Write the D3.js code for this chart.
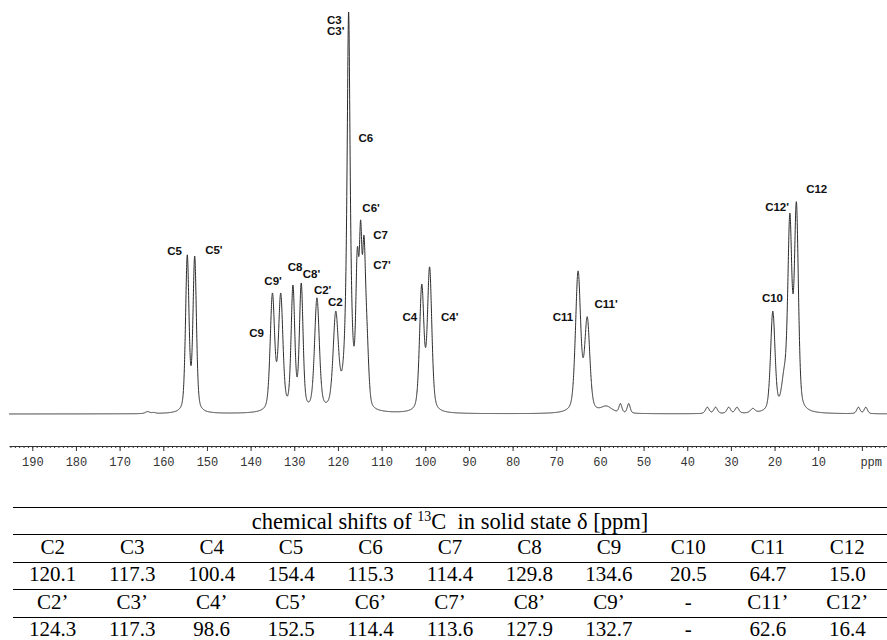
<!DOCTYPE html>
<html>
<head>
<meta charset="utf-8">
<script src="https://cdn.jsdelivr.net/npm/d3@7"></script>
<style>
  body { margin: 0; background: #fff; }
  svg { display: block; }
</style>
</head>
<body>
<svg id="chart" width="887" height="640"></svg>
<script>
// peaks: shift (ppm), apex height (% of tallest), half width (ppm), lorentz fraction
const peakShift  = [163.6, 162.2, 154.5, 152.8, 135.0, 133.1, 130.3, 128.4, 124.8, 120.5, 117.55, 115.55, 114.8, 114.05, 113.4, 100.8, 99.0, 65.0, 62.9, 58.5, 55.3, 53.4, 35.4, 33.5, 30.5, 28.6, 25.0, 20.4, 17.8, 16.5, 15.0, 0.8, -0.9];
const peakHeight = [0.6, 0.4, 39.6, 39.3, 30.1, 30.1, 32.1, 32.6, 28.9, 25.6, 100, 41.5, 48.3, 44.5, 25, 32.3, 36.6, 35.6, 24.2, 2.0, 2.6, 2.6, 1.7, 1.7, 1.7, 1.7, 1.4, 25.6, 11.7, 50, 52.8, 1.7, 1.7];
const peakWidth  = [0.6, 0.5, 0.47, 0.47, 0.6, 0.6, 0.5, 0.5, 0.65, 0.7, 0.45, 0.4, 0.35, 0.4, 0.5, 0.6, 0.6, 0.7, 0.7, 1.5, 0.4, 0.4, 0.5, 0.5, 0.5, 0.5, 0.6, 0.6, 0.7, 0.55, 0.55, 0.45, 0.45];
const peakLorentz = [0.4, 0.4, 0.4, 0.4, 0.4, 0.4, 0.4, 0.4, 0.4, 0.4, 1.0, 0.3, 0.3, 0.3, 0.3, 0.4, 0.4, 0.4, 0.4, 0.4, 0.4, 0.4, 0.4, 0.4, 0.4, 0.4, 0.4, 0.4, 0.4, 0.4, 0.4, 0.4, 0.4];

// peak labels (text, ppm, intensity where the label starts)
const labelText = ["C5", "C5'", "C9'", "C9", "C8", "C8'", "C2'", "C2", "C3", "C3'", "C6", "C6'", "C7", "C7'", "C4", "C4'", "C11", "C11'", "C10", "C12'", "C12"];
const labelPpm  = [159.1, 150.4, 136.85, 140.3, 131.5, 128.05, 125.5, 122.3, 122.5, 122.5, 115.3, 114.4, 111.9, 111.9, 105.2, 96.4, 70.8, 61.25, 22.9, 22.15, 12.76];
const labelInt  = [40.6, 40.8, 33.1, 20.1, 36.6, 34.8, 31.0, 27.9, 98.1, 95.2, 68.6, 51.2, 44.5, 37.1, 24.1, 24.2, 24.1, 27.5, 28.9, 51.6, 55.9];

// axis
const majorTicks = d3.range(190, -1, -10);
const minorTicks = d3.range(195, -6, -1);

// table
const tableTitle = ["chemical shifts of ", "13", "C  in solid state δ [ppm]"];
const atomsA  = ["C2", "C3", "C4", "C5", "C6", "C7", "C8", "C9", "C10", "C11", "C12"];
const shiftsA = ["120.1", "117.3", "100.4", "154.4", "115.3", "114.4", "129.8", "134.6", "20.5", "64.7", "15.0"];
const atomsB  = ["C2’", "C3’", "C4’", "C5’", "C6’", "C7’", "C8’", "C9’", "-", "C11’", "C12’"];
const shiftsB = ["124.3", "117.3", "98.6", "152.5", "114.4", "113.6", "127.9", "132.7", "-", "62.6", "16.4"];

const svg = d3.select("#chart");

const x = d3.scaleLinear().domain([195.33, -5.75]).range([9, 887]);
const y = d3.scaleLinear().domain([0, 100]).range([414, 12]);

// pseudo-voigt line shape
const shape = (j, ppm) => {
    const u = (ppm - peakShift[j]) / peakWidth[j];
    const L = 1 / (1 + u * u);
    const G = Math.exp(-Math.LN2 * u * u);
    return peakLorentz[j] * L + (1 - peakLorentz[j]) * G;
}

// solve for amplitudes so the summed curve hits each apex height
const n = peakShift.length;
const A = peakShift.map((p, i) => peakShift.map((q, j) => shape(j, p)).concat([peakHeight[i]]));
for (let c = 0; c < n; c++) {
    let piv = c;
    for (let r = c + 1; r < n; r++) if (Math.abs(A[r][c]) > Math.abs(A[piv][c])) piv = r;
    [A[c], A[piv]] = [A[piv], A[c]];
    for (let r = 0; r < n; r++) {
        if (r === c) continue;
        const f = A[r][c] / A[c][c];
        for (let k = c; k <= n; k++) A[r][k] -= f * A[c][k];
    }
}
const amp = A.map((row, i) => Math.max(0, row[n] / row[i]));

const spectrum = d3.range(195.33, -5.75, -0.02).map(ppm => {
    let v = 0;
    for (let j = 0; j < n; j++) v += amp[j] * shape(j, ppm);
    return [ppm, v];
});

svg.append("path")
    .datum(spectrum)
    .attr("fill", "none")
    .attr("stroke", "#2b2b2b")
    .attr("stroke-width", 1)
    .attr("d", d3.line().x(d => x(d[0])).y(d => y(d[1])));

svg.selectAll(".peak-label")
    .data(labelText)
    .enter().append("text")
    .attr("class", "peak-label")
    .attr("x", (d, i) => x(labelPpm[i]))
    .attr("y", (d, i) => y(labelInt[i]))
    .attr("dy", "0.36em")
    .style("font-family", "'Liberation Sans', Arial, sans-serif")
    .style("font-weight", "bold")
    .style("font-size", "11.5px")
    .style("fill", "#111")
    .text(d => d);

// ppm axis
const axisG = svg.append("g").attr("transform", "translate(0,446)");
axisG.append("g")
    .call(d3.axisBottom(x).tickValues(minorTicks).tickSize(2).tickFormat("").tickSizeOuter(0))
    .call(g => g.select(".domain").remove());
axisG.append("g")
    .call(d3.axisBottom(x).tickValues(majorTicks).tickSize(5).tickPadding(6).tickSizeOuter(0)
        .tickFormat(d => d === 0 ? "ppm" : d))
    .call(g => g.selectAll("text")
        .style("font-family", "'Liberation Mono', 'Courier New', monospace")
        .style("font-size", "12px")
        .style("fill", "#333"))
    .call(g => g.selectAll(".tick").filter(d => d === 0).select("text")
        .attr("text-anchor", "start").attr("x", -2));
axisG.selectAll("line, path").attr("stroke", "#333");

// table of chemical shifts
const col = d3.scaleBand().domain(d3.range(atomsA.length)).range([13, 887]);
const row = d3.scaleBand().domain(d3.range(5)).range([507, 644]);
const table = svg.append("g")
    .style("font-family", "'Liberation Serif', 'Times New Roman', serif")
    .style("font-size", "21px")
    .style("fill", "#000");

table.selectAll(".rule")
    .data(d3.range(5))
    .enter().append("line")
    .attr("x1", 13).attr("x2", 887)
    .attr("y1", d => Math.round(row(d)) + 0.5)
    .attr("y2", d => Math.round(row(d)) + 0.5)
    .attr("stroke", "#000")
    .attr("stroke-width", 1);

const title = table.append("text")
    .attr("x", (13 + 887) / 2)
    .attr("y", row(0) + 22)
    .attr("text-anchor", "middle")
    .attr("xml:space", "preserve")
    .style("font-size", "22.5px");
title.append("tspan").text(tableTitle[0]);
title.append("tspan").attr("font-size", "14px").attr("dy", "-8").text(tableTitle[1]);
title.append("tspan").attr("dy", "8").text(tableTitle[2]);

[atomsA, shiftsA, atomsB, shiftsB].forEach((cells, r) => {
    table.selectAll(".row" + r)
        .data(cells)
        .enter().append("text")
        .attr("class", "row" + r)
        .attr("x", (d, i) => col(i) + col.bandwidth() / 2)
        .attr("y", row(r + 1) + 19.5)
        .attr("text-anchor", "middle")
        .text(d => d);
});
</script>
</body>
</html>
